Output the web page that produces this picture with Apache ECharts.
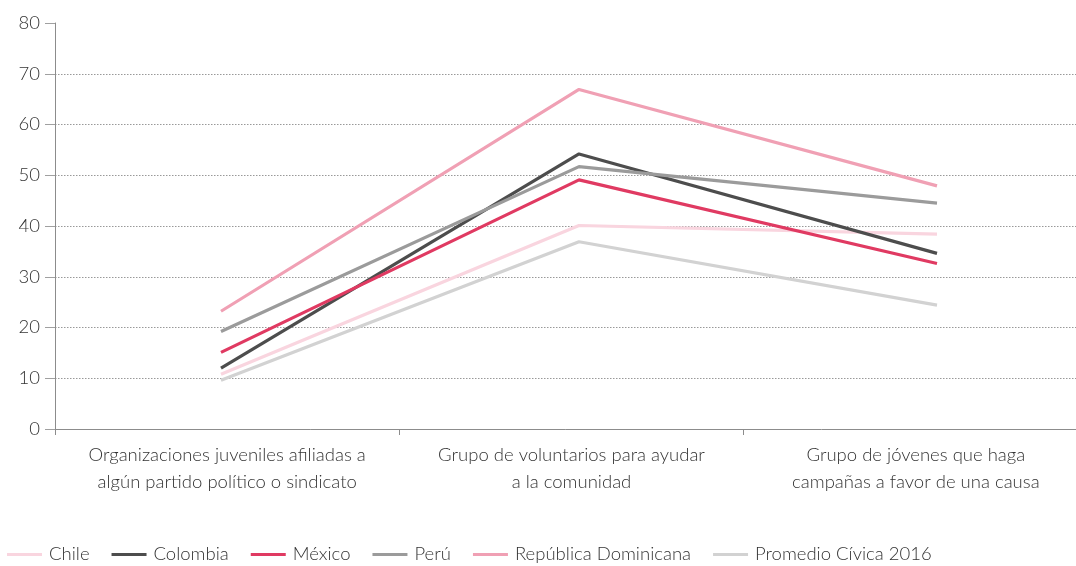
<!DOCTYPE html>
<html><head><meta charset="utf-8">
<script src="https://cdn.jsdelivr.net/npm/echarts@6/dist/echarts.min.js"></script>
<style>html,body{margin:0;padding:0;background:#fff}#c{width:1076px;height:566px}</style>
</head><body><div id="c"></div>
<script>
const categories = [
  'Organizaciones juveniles afiliadas a\nalgún partido político o sindicato',
  'Grupo de voluntarios para ayudar\na la comunidad',
  'Grupo de jóvenes que haga\ncampañas a favor de una causa'
];
const seriesNames = ['Chile','Colombia','México','Perú','República Dominicana','Promedio Cívica 2016'];
const chile = [10.8, 40.1, 38.4];
const colombia = [12.0, 54.2, 34.6];
const mexico = [15.1, 49.1, 32.6];
const peru = [19.2, 51.7, 44.5];
const repDom = [23.2, 66.9, 47.9];
const promedio = [9.6, 36.9, 24.4];
const yTicks = [0,10,20,30,40,50,60,70,80];

const values = [chile, colombia, mexico, peru, repDom, promedio];
const colors = ['#f9d5df','#4d4d4d','#e03a62','#9b9b9b','#f0a0b4','#d2d2d2'];
const font = 'Lato, "Open Sans", sans-serif';

const chart = echarts.init(document.getElementById('c'));
const gridTop = 23, gridH = 406;
chart.setOption({
  animation: false,
  grid: [
    {left: 55, top: gridTop, width: 1033, height: gridH, outerBoundsMode: 'none', containLabel: false},
    {left: 221, top: gridTop, width: 716, height: gridH, outerBoundsMode: 'none'}
  ],
  legend: {
    left: 7, top: 545, padding: 0, itemWidth: 35, itemHeight: 3, itemGap: 22, icon: 'rect',
    textStyle: {fontFamily: font, fontSize: 18.5, fontWeight: 300, color: '#333', padding: [0,0,0,2]},
    data: seriesNames
  },
  xAxis: [
    {type: 'category', gridIndex: 0, data: categories, boundaryGap: true,
     axisLine: {lineStyle: {color: '#8c8c8c', width: 1}},
     axisTick: {show: true, interval: 0, length: 6, inside: false, lineStyle: {color: '#8c8c8c'}},
     axisLabel: {interval: 0, margin: 13, fontFamily: font, fontSize: 18.5, fontWeight: 300, color: '#333', lineHeight: 27}},
    {type: 'category', gridIndex: 1, data: categories, boundaryGap: false, show: false}
  ],
  yAxis: [
    {type: 'value', gridIndex: 0, min: 0, max: 80, interval: 10,
     axisLine: {show: true, lineStyle: {color: '#8c8c8c'}},
     axisTick: {show: true, length: 10, lineStyle: {color: '#a0a0a0', width: 1}},
     axisLabel: {margin: 15, fontFamily: font, fontSize: 18.5, fontWeight: 300, color: '#333',
       formatter: v => yTicks.includes(v) ? String(v) : ''},
     splitLine: {show: true, lineStyle: {type: [1.5,1.5], width: 1,
       color: ['rgba(0,0,0,0)','#999','#999','#999','#999','#999','#999','#999','rgba(0,0,0,0)']}}},
    {type: 'value', gridIndex: 1, min: 0, max: 80, show: false, splitLine: {show: false}}
  ],
  series: seriesNames.map((n, i) => ({
    name: n, type: 'line', xAxisIndex: 1, yAxisIndex: 1, data: values[i],
    symbol: 'none', color: colors[i],
    lineStyle: {width: 3.2, color: colors[i]}, z: 2 + i
  }))
});
</script></body></html>
